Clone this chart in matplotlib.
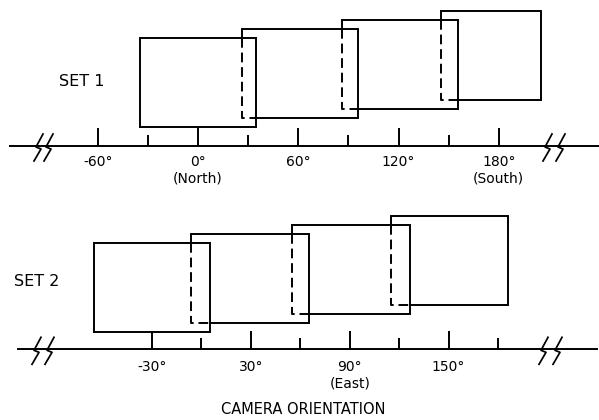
import matplotlib
matplotlib.use('Agg')
import matplotlib.pyplot as plt
import matplotlib.transforms as mtransforms

# field of view covered by each frame, degrees (left edge, right edge)
set1_left = [-35, 26.5, 86, 145.5]
set1_right = [35, 96, 155.5, 205]
set2_left = [-65, -6.5, 55, 115]
set2_right = [5, 65.5, 126.5, 186]

set1_major = [-60, 0, 60, 120, 180]
set1_labels = ['-60°', '0°\n(North)', '60°', '120°', '180°\n(South)']
set1_minor = [-30, 30, 90, 150]

set2_major = [-30, 30, 90, 150]
set2_labels = ['-30°', '30°', '90°\n(East)', '150°']
set2_minor = [0, 60, 120, 180]

W, H = 599, 420
LW = 1.4
plt.rcParams['font.family'] = ['DejaVu Sans']


def draw_frames(ax, lefts, rights, base, step, height):
    for i, (l, r) in enumerate(zip(lefts, rights)):
        b = base + i * step
        t = b + height
        if i == 0:
            ax.plot([l, r, r, l, l], [b, b, t, t, b], color='k', lw=LW,
                    solid_joinstyle='miter')
            continue
        # the previous frame is in front, so part of this outline is hidden
        pr = rights[i - 1]
        pt = base + (i - 1) * step + height
        ax.plot([l, l, r, r, pr], [pt, t, t, b, b], color='k', lw=LW,
                solid_joinstyle='miter')
        ax.plot([l, l, pr], [pt, b, b], color='k', lw=LW, ls=(0, (5, 2.5)))


def draw_breaks(ax, centers):
    # lightning-shaped break marks, offsets in pixels
    tr = mtransforms.blended_transform_factory(ax.transAxes, ax.transData)
    dx = [5, -2, 3, -4]
    dy = [12, -1, -3, -15]
    for c in centers:
        ax.plot([(c + d) / W for d in dx], dy, transform=tr, color='k',
                lw=LW * 0.9, clip_on=False)


def setup_axis(ax, x0, scale, ylim, line_px, major, labels, minor, pad):
    ax.set_xlim((0 - x0) / scale, (W - x0) / scale)
    ax.set_ylim(*ylim)
    ax.patch.set_visible(False)
    for s in ['top', 'left', 'right']:
        ax.spines[s].set_visible(False)
    sp = ax.spines['bottom']
    sp.set_position(('data', 0))
    sp.set_linewidth(LW)
    sp.set_bounds((line_px[0] - x0) / scale, (line_px[1] - x0) / scale)
    ax.set_yticks([])
    ax.set_xticks(major, labels)
    ax.set_xticks(minor, minor=True)
    ax.tick_params(axis='x', which='major', direction='in', length=13,
                   width=LW, pad=pad, labelsize=10)
    ax.tick_params(axis='x', which='minor', direction='in', length=8,
                   width=LW)


fig = plt.figure(figsize=(W / 100, H / 100), dpi=100)

ax1 = fig.add_axes([0, 220 / H, 1, 200 / H])
setup_axis(ax1, 198, 1.671, (-54, 146), (10, W), set1_major, set1_labels,
           set1_minor, 6.5)
draw_frames(ax1, set1_left, set1_right, 19, 9, 89)
draw_breaks(ax1, [38, 48, 547, 560])
ax1.text(-83, 65, 'SET 1', fontsize=11.5, ha='left', va='center')

ax2 = fig.add_axes([0, 0, 1, 220 / H])
setup_axis(ax2, 201.4, 1.648, (-70.7, 149.3), (18, 597), set2_major,
           set2_labels, set2_minor, 8)
draw_frames(ax2, set2_left, set2_right, 17, 9.2, 89)
draw_breaks(ax2, [36, 49, 543, 557])
ax2.text(-113.7, 67.6, 'SET 2', fontsize=11.5, ha='left', va='center')

fig.text(303 / W, 10 / H, 'CAMERA ORIENTATION', fontsize=10.5,
         ha='center', va='center')

fig.savefig('out.png', dpi=100)
